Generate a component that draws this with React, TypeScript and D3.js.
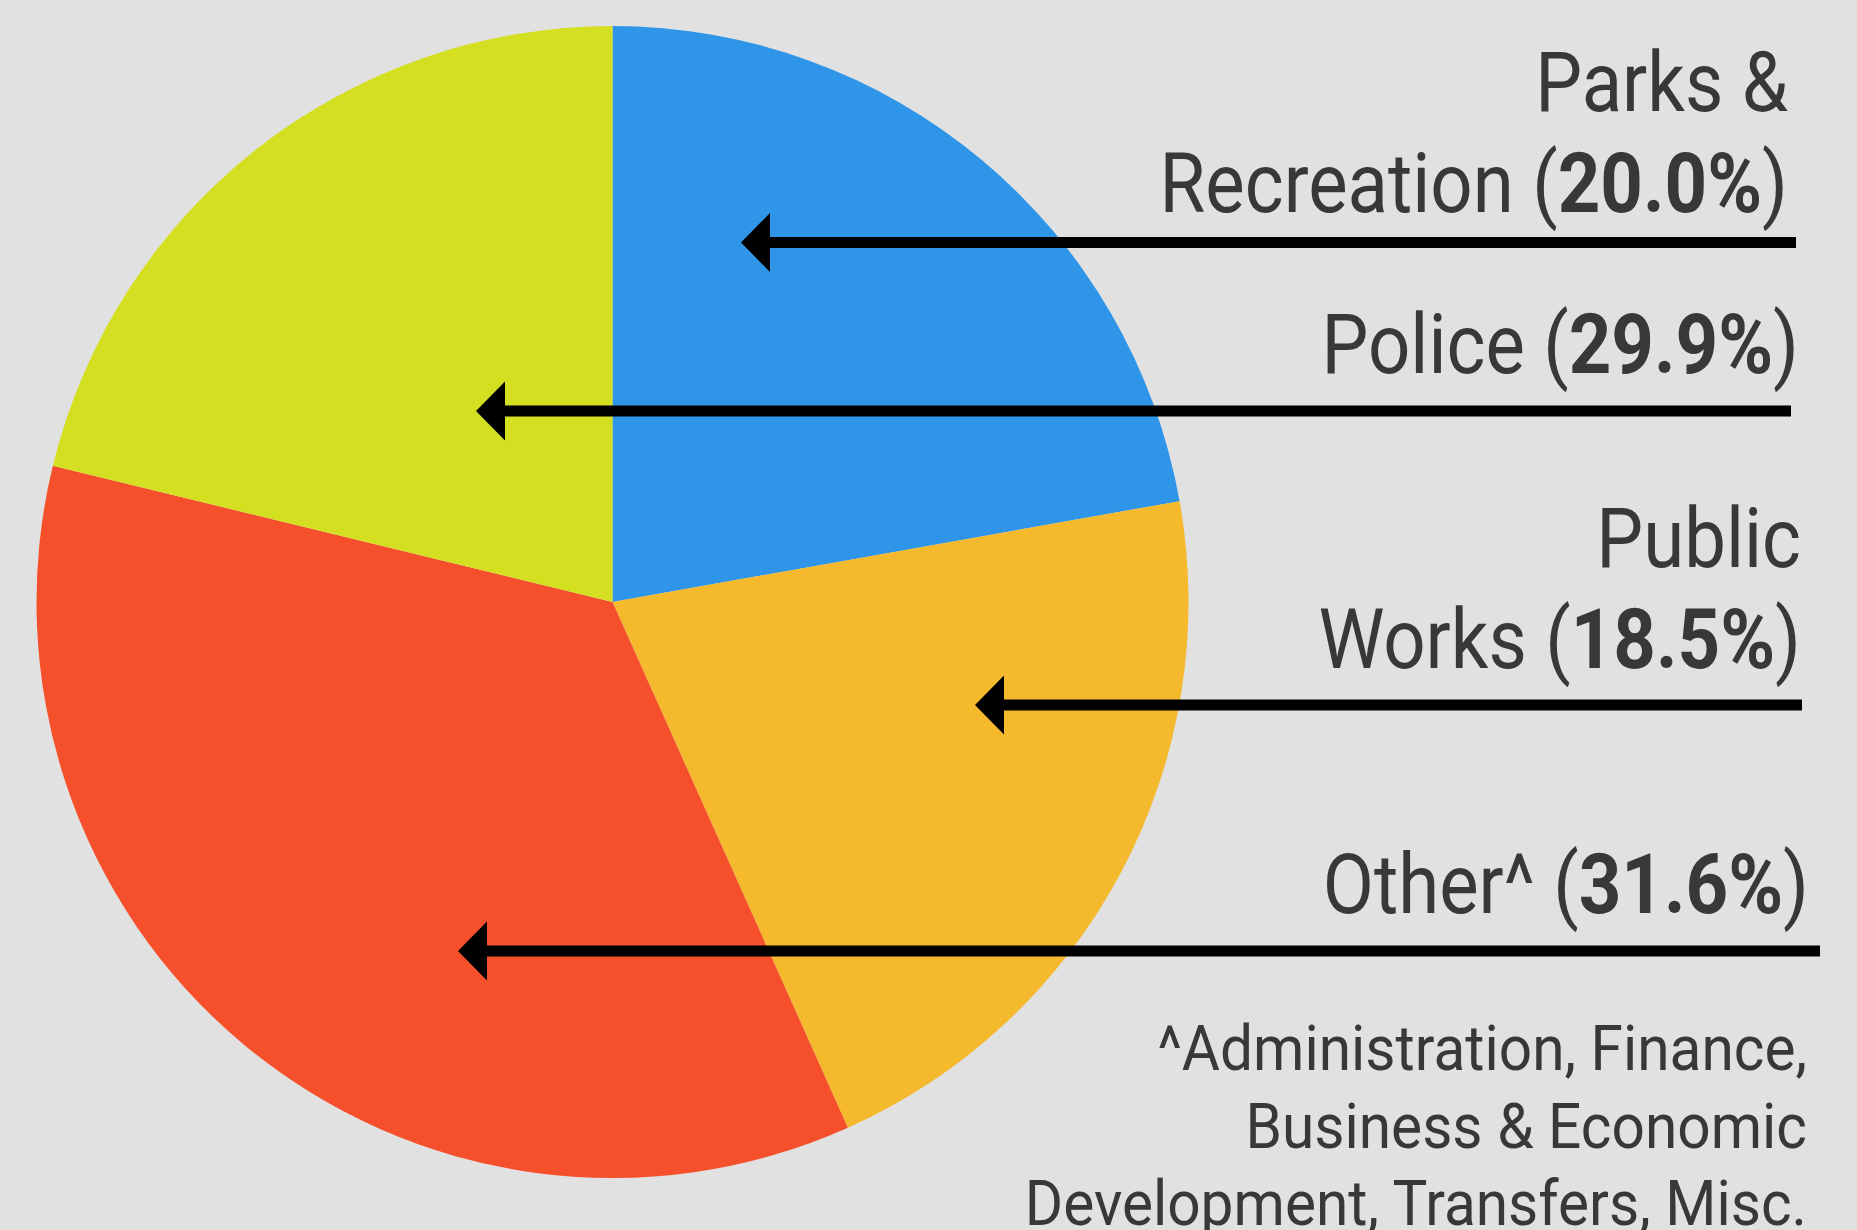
import React from "react";
import * as d3 from "d3";

// ---- data ----
const categories = ["Parks & Recreation", "Public Works", "Other^", "Police"];
const sliceValues = [22.2, 21.1, 35.5, 21.2]; // drawn slice sizes, clockwise from 12 o'clock
const sliceColors = ["#2F95E9", "#F5B92E", "#F5502B", "#D5DF22"];
const labelLines = [
  ["Parks &", "Recreation "],
  ["Police "],
  ["Public", "Works "],
  ["Other^ "],
];
const labelPercents = ["20.0%", "29.9%", "18.5%", "31.6%"];
const footnoteLines = [
  "^Administration, Finance,",
  "Business & Economic",
  "Development, Transfers, Misc.",
];

// ---- layout ----
const W = 1857;
const H = 1230;
const CX = 612.5;
const CY = 602;
const R = 576;
const TEXT = "#383838";
const K = 0.885; // condensed width factor
const FONT = "Roboto, 'Noto Sans', sans-serif";

const labelLayout = [
  { right: 1788, baselines: [111, 212] },
  { right: 1799, baselines: [373] },
  { right: 1801, baselines: [567, 668] },
  { right: 1809, baselines: [913] },
];
const arrowLayout = [
  { y: 242.5, tip: 741, end: 1796 },
  { y: 411, tip: 476, end: 1791 },
  { y: 705, tip: 975, end: 1802 },
  { y: 951, tip: 458, end: 1820 },
];
const footLayout = { right: 1807, baselines: [1070, 1148, 1225], size: 63, k: 0.93 };

export default function App() {
  const pie = d3.pie<number>().sort(null).value((d) => d);
  const arcs = pie(sliceValues);
  const arc = d3.arc<d3.PieArcDatum<number>>().innerRadius(0).outerRadius(R);

  return (
    <svg
      width={W}
      height={H}
      style={{ position: "absolute", left: 0, top: 0, background: "#E1E1E1" }}
    >
      <rect x={0} y={0} width={W} height={H} fill="#E1E1E1" />
      <g transform={`translate(${CX},${CY})`}>
        {arcs.map((a, i) => (
          <path key={categories[i]} d={arc(a) || ""} fill={sliceColors[i]} />
        ))}
      </g>

      {labelLines.map((lines, i) =>
        lines.map((line, j) => {
          const L = labelLayout[i];
          const isLast = j === lines.length - 1;
          return (
            <g
              key={`${i}-${j}`}
              transform={`translate(${L.right},${L.baselines[j]}) scale(${K},1)`}
            >
              <text
                x={0}
                y={0}
                textAnchor="end"
                fontFamily={FONT}
                fontSize={84}
                fill={TEXT}
              >
                {isLast ? (
                  <>
                    {line}(
                    <tspan fontWeight={700}>{labelPercents[i]}</tspan>)
                  </>
                ) : (
                  line
                )}
              </text>
            </g>
          );
        })
      )}

      {arrowLayout.map((a, i) => (
        <g key={`arrow-${i}`}>
          <line
            x1={a.tip + 25}
            x2={a.end}
            y1={a.y}
            y2={a.y}
            stroke="#000"
            strokeWidth={11}
          />
          <polygon
            points={`${a.tip},${a.y} ${a.tip + 29},${a.y - 29.5} ${a.tip + 29},${a.y + 29.5}`}
            fill="#000"
          />
        </g>
      ))}

      {footnoteLines.map((line, j) => (
        <g
          key={`foot-${j}`}
          transform={`translate(${footLayout.right},${footLayout.baselines[j]}) scale(${footLayout.k},1)`}
        >
          <text
            x={0}
            y={0}
            textAnchor="end"
            fontFamily={FONT}
            fontSize={footLayout.size}
            fill={TEXT}
          >
            {line}
          </text>
        </g>
      ))}
    </svg>
  );
}
